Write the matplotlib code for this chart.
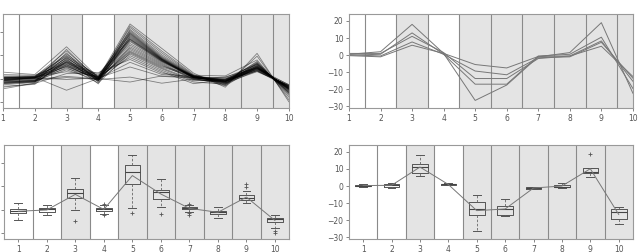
import numpy as np
import matplotlib
matplotlib.use("Agg")
import matplotlib.pyplot as plt

# time points and which columns are shaded
timepoints = np.arange(1, 11)
shaded = [3, 5, 6, 7, 8, 9, 10]

# left cluster: values per time point (one entry per gene profile)
tp1 = [2.8, -1.5, 0.4, -2.6, 0.1, -0.4, 1.2, -1.9, -0.8, 0.6, -3.2, -0.2, 0.3, -1.0, -4.3, 0.9, -0.6,
       -1.8, 1.8, -0.3, -2.2, 0.5, -1.2, -0.5, 0.2, -2.0, -0.1, -1.4, 0.4, -3.6, -0.7, 0.0, -1.6, -0.9]
tp2 = [1.8, -1.0, 0.8, -1.6, 0.5, 0.3, 1.2, -1.2, -0.4, 0.9, -2.4, 0.2, 0.6, -0.8, -1.9, 1.0, 0.0,
       -1.1, 1.5, 0.4, -1.4, 0.7, -0.6, 0.3, 0.5, -1.3, 0.1, -0.9, 0.8, -2.0, -0.2, 0.4, -0.7, 0.6]
tp3 = [13.6, 12.5, 11.8, 11.0, 10.5, 10.0, 9.6, 9.3, 9.0, 8.7, 8.4, 8.1, 7.8, 7.5, 7.3, 7.1, 7.0,
       6.8, 6.5, 6.2, 6.0, 5.8, 5.5, 5.3, 5.1, 4.8, 4.3, 3.8, 3.0, 2.2, 1.0, -0.3, 0.5, -4.9]
tp4 = [0.5, -0.6, 0.2, -1.5, 0.7, -0.3, 1.2, -0.9, 0.0, 0.9, -2.2, 0.3, 0.1, -0.5, 2.0, 0.6, -0.2,
       -0.8, 1.5, 0.4, -1.1, 0.8, -0.4, 0.2, -0.1, -1.8, 0.5, -0.7, 1.0, 2.6, 0.0, 0.3, -0.3, 0.1]
tp5 = [23.3, 22.5, 21.8, 21.0, 20.5, 20.0, 19.6, 19.3, 19.0, 18.6, 18.2, 17.8, 17.4, 17.0, 16.8, 16.6, 16.2,
       15.8, 15.0, 14.3, 13.6, 13.0, 12.4, 11.8, 11.4, 11.0, 10.5, 9.8, 9.0, 8.2, 7.0, 5.0, 0.7, -1.4]
tp6 = [12.9, 11.8, 11.0, 10.2, 9.6, 9.2, 8.9, 8.7, 8.5, 8.4, 8.3, 8.2, 8.1, 8.0, 7.9, 7.7, 7.6,
       7.5, 7.3, 7.0, 6.6, 6.2, 5.8, 5.4, 5.0, 4.6, 4.2, 3.6, 3.0, 2.4, 1.8, 1.0, -1.9, 1.2]
tp7 = [2.4, 1.8, 1.5, 1.3, 1.2, 1.1, 1.0, 0.9, 0.8, 0.7, 0.7, 0.6, 0.5, 0.4, 0.3, 0.2, 1.3,
       1.0, 0.8, 0.6, 0.0, -0.2, -0.3, 1.4, 0.9, -0.5, -0.9, -1.4, -2.1, 0.5, 1.1, 0.3, -0.1, 0.6]
tp8 = [-3.6, -2.8, 1.2, -1.5, -0.8, -2.2, -0.3, -1.1, -1.9, 0.5, -2.5, -1.0, -0.6, -1.3, -3.0, -0.1, -1.6,
       -0.9, -0.4, -1.2, -2.0, 0.8, -1.4, -0.7, -1.8, -1.1, -0.2, -2.3, -0.5, -1.0, -1.7, 0.2, -1.2, -0.9]
tp9 = [10.8, 9.6, 8.0, 7.4, 7.0, 6.7, 6.5, 6.3, 6.2, 6.0, 5.8, 5.6, 5.5, 5.3, 5.2, 5.1, 5.0,
       4.9, 4.8, 4.7, 4.6, 4.5, 4.4, 4.3, 4.2, 4.0, 3.8, 3.6, 3.4, 3.2, 3.0, 4.5, 4.0, 3.5]
tp10 = [-9.8, -8.9, -7.8, -7.0, -6.5, -6.1, -5.9, -5.7, -5.5, -5.2, -5.0, -4.8, -4.6, -4.5, -4.4, -4.3, -4.2,
        -4.1, -4.0, -3.9, -3.8, -3.7, -3.6, -3.5, -3.4, -3.3, -3.2, -3.1, -3.0, -2.9, -2.8, -2.6, -2.5, -4.0]
left = np.column_stack([tp1, tp2, tp3, tp4, tp5, tp6, tp7, tp8, tp9, tp10])

# right cluster: five profiles
r1 = [0.5, 2.0, 18.0, 1.0, -26.5, -17.5, -1.0, 1.5, 19.0, -22.3]
r2 = [0.0, 0.5, 13.0, 0.5, -17.0, -17.0, -0.5, 0.5, 10.5, -19.5]
r3 = [1.0, 1.0, 11.0, 1.5, -13.7, -13.7, -2.0, -0.5, 8.3, -15.3]
r4 = [0.2, -0.5, 7.7, 0.5, -9.3, -11.5, -1.5, -1.0, 7.5, -13.5]
r5 = [-0.3, -1.0, 5.8, 1.0, -5.5, -7.5, -0.8, -0.5, 5.2, -12.5]
right = np.array([r1, r2, r3, r4, r5])

left_ticks = [-10, 0, 10, 20]
right_ticks = [-30, -20, -10, 0, 10, 20]

shade_col = '#e4e4e4'
sep_col = '#8a8a8a'
text_col = '#555555'


def background(ax, lo, hi):
    for t in shaded:
        ax.axvspan(max(t - 0.5, lo), min(t + 0.5, hi), color=shade_col, lw=0, zorder=0)
    for t in timepoints[:-1]:
        ax.axvline(t + 0.5, color=sep_col, lw=0.8, zorder=1)
    ax.set_xlim(lo, hi)
    ax.set_xticks(timepoints)
    for s in ax.spines.values():
        s.set_color('#999999')
        s.set_linewidth(0.8)
    ax.tick_params(labelsize=5.5, colors=text_col, length=2, width=0.5, pad=2)


def boxes(ax, data):
    ax.boxplot(data, positions=timepoints, widths=0.55, whis=1.5,
               boxprops=dict(color='#555555', lw=0.7),
               medianprops=dict(color='#444444', lw=0.8),
               whiskerprops=dict(color='#666666', lw=0.6, ls=(0, (3, 2))),
               capprops=dict(color='#555555', lw=0.7),
               flierprops=dict(marker='+', markersize=3, markeredgecolor='#555555', markeredgewidth=0.6),
               zorder=3)
    ax.plot(timepoints, data.mean(axis=0), color='#777777', lw=0.7, zorder=4)
    ax.set_xticks(timepoints)
    ax.set_xticklabels([str(t) for t in timepoints])


fig = plt.figure(figsize=(6.38, 2.52), dpi=100)

ax1 = fig.add_axes([0.0047, 0.571, 0.448, 0.373])
background(ax1, 1, 10)
for row in left:
    ax1.plot(timepoints, row, color='black', alpha=0.45, lw=0.6, zorder=2)
ax1.set_ylim(-12.5, 27.5)
ax1.set_yticks(left_ticks)

ax2 = fig.add_axes([0.547, 0.571, 0.445, 0.373])
background(ax2, 1, 10)
for row in right:
    ax2.plot(timepoints, row, color='#777777', lw=0.7, zorder=2)
ax2.set_ylim(-31, 24)
ax2.set_yticks(right_ticks)

ax3 = fig.add_axes([0.0063, 0.0516, 0.447, 0.373])
background(ax3, 0.5, 10.5)
boxes(ax3, left)
ax3.set_xlim(0.5, 10.5)
ax3.set_ylim(-12.5, 27.5)
ax3.set_yticks(left_ticks)

ax4 = fig.add_axes([0.547, 0.0516, 0.445, 0.373])
background(ax4, 0.5, 10.5)
boxes(ax4, right)
ax4.set_xlim(0.5, 10.5)
ax4.set_ylim(-31, 24)
ax4.set_yticks(right_ticks)

fig.savefig('out.png', dpi=100)
